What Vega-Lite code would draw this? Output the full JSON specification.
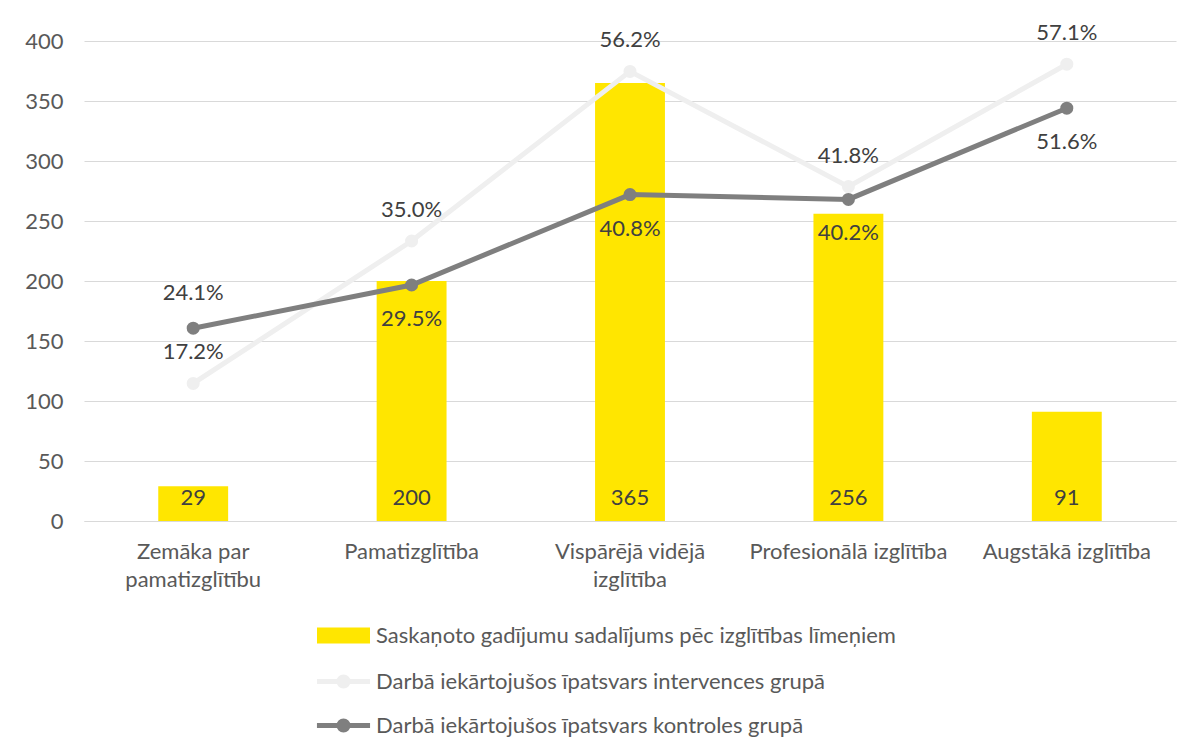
{
  "$schema": "https://vega.github.io/schema/vega-lite/v6.json",
  "autosize": "none",
  "width": 1092,
  "height": 480,
  "padding": {"left": 84, "top": 41, "right": 16, "bottom": 232},
  "background": "white",
  "config": {
    "font": "Lato",
    "view": {"stroke": null},
    "axis": {"labelFont": "Lato", "labelFontSize": 22, "labelColor": "#595959"}
  },
  "data": {
    "values": [
      {"kat": "Zemāka par pamatizglītību", "n": 29, "interv": 0.172, "kontr": 0.241},
      {"kat": "Pamatizglītība", "n": 200, "interv": 0.35, "kontr": 0.295},
      {"kat": "Vispārējā vidējā izglītība", "n": 365, "interv": 0.562, "kontr": 0.408},
      {"kat": "Profesionālā izglītība", "n": 256, "interv": 0.418, "kontr": 0.402},
      {"kat": "Augstākā izglītība", "n": 91, "interv": 0.571, "kontr": 0.516}
    ]
  },
  "encoding": {
    "x": {
      "field": "kat",
      "type": "nominal",
      "sort": null,
      "title": null,
      "scale": {"paddingInner": 0.68, "paddingOuter": 0.34},
      "axis": {
        "labelAngle": 0,
        "ticks": false,
        "domainColor": "#d9d9d9",
        "domainWidth": 1,
        "labelPadding": 20,
        "labelLineHeight": 28,
        "labelLimit": 0,
        "labelExpr": "datum.label == 'Zemāka par pamatizglītību' ? ['Zemāka par', 'pamatizglītību'] : datum.label == 'Vispārējā vidējā izglītība' ? ['Vispārējā vidējā', 'izglītība'] : datum.label"
      }
    }
  },
  "layer": [
    {
      "layer": [
        {
          "mark": {"type": "bar", "color": "#ffe600"},
          "encoding": {
            "y": {
              "field": "n",
              "type": "quantitative",
              "title": null,
              "scale": {"domain": [0, 400]},
              "axis": {
                "values": [0, 50, 100, 150, 200, 250, 300, 350, 400],
                "grid": true,
                "gridColor": "#d9d9d9",
                "gridWidth": 1,
                "domain": false,
                "ticks": false,
                "labelPadding": 21
              }
            },
            "color": {
              "datum": "Saskaņoto gadījumu sadalījums pēc izglītības līmeņiem",
              "type": "nominal",
              "scale": {
                "domain": [
                  "Saskaņoto gadījumu sadalījums pēc izglītības līmeņiem",
                  "Darbā iekārtojušos īpatsvars intervences grupā",
                  "Darbā iekārtojušos īpatsvars kontroles grupā"
                ],
                "range": ["#ffe600", "#efefef", "#7f7f7f"]
              },
              "legend": {
                "orient": "none",
                "legendX": 242,
                "legendY": 577,
                "direction": "vertical",
                "title": null,
                "labelFont": "Lato",
                "labelFontSize": 22,
                "labelColor": "#595959",
                "labelLimit": 0,
                "labelOffset": 15,
                "rowPadding": 12,
                "symbolSize": 900,
                "encode": {
                  "symbols": {
                    "update": {
                      "shape": {"signal": "datum.value == 'Saskaņoto gadījumu sadalījums pēc izglītības līmeņiem' ? 'M-1.6,-0.37H1.6V0.37H-1.6Z' : 'M-1.77,0H1.77M-0.3,0A0.3,0.3 0 1 1 0.3,0A0.3,0.3 0 1 1 -0.3,0Z'"},
                      "fill": {"scale": "color", "field": "value"},
                      "stroke": {"scale": "color", "field": "value"},
                      "strokeWidth": {"value": 5},
                      "opacity": {"value": 1},
                      "fillOpacity": {"value": 1}
                    }
                  }
                }
              }
            }
          }
        },
        {
          "mark": {"type": "text", "fontSize": 22, "color": "#404040", "dy": -23, "baseline": "middle"},
          "encoding": {
            "y": {"datum": 0, "type": "quantitative", "scale": {"domain": [0, 400]}},
            "text": {"field": "n", "type": "quantitative"}
          }
        }
      ]
    },
    {
      "layer": [
        {
          "mark": {"type": "line", "strokeWidth": 5, "point": {"filled": true, "size": 170, "opacity": 1}},
          "encoding": {
            "y": {"field": "interv", "type": "quantitative", "scale": {"domain": [0, 0.6]}, "axis": null},
            "color": {"datum": "Darbā iekārtojušos īpatsvars intervences grupā", "type": "nominal"}
          }
        },
        {
          "mark": {"type": "text", "fontSize": 22, "color": "#404040", "dy": -31, "baseline": "middle"},
          "encoding": {
            "y": {"field": "interv", "type": "quantitative", "scale": {"domain": [0, 0.6]}, "axis": null},
            "text": {"field": "interv", "type": "quantitative", "format": ".1%"}
          }
        },
        {
          "mark": {"type": "line", "strokeWidth": 5, "point": {"filled": true, "size": 170, "opacity": 1}},
          "encoding": {
            "y": {"field": "kontr", "type": "quantitative", "scale": {"domain": [0, 0.6]}, "axis": null},
            "color": {"datum": "Darbā iekārtojušos īpatsvars kontroles grupā", "type": "nominal"}
          }
        },
        {
          "transform": [{"filter": "datum.kat == 'Zemāka par pamatizglītību'"}],
          "mark": {"type": "text", "fontSize": 22, "color": "#404040", "dy": -35, "baseline": "middle"},
          "encoding": {
            "y": {"field": "kontr", "type": "quantitative", "scale": {"domain": [0, 0.6]}, "axis": null},
            "text": {"field": "kontr", "type": "quantitative", "format": ".1%"}
          }
        },
        {
          "transform": [{"filter": "datum.kat != 'Zemāka par pamatizglītību'"}],
          "mark": {"type": "text", "fontSize": 22, "color": "#404040", "dy": 34, "baseline": "middle"},
          "encoding": {
            "y": {"field": "kontr", "type": "quantitative", "scale": {"domain": [0, 0.6]}, "axis": null},
            "text": {"field": "kontr", "type": "quantitative", "format": ".1%"}
          }
        }
      ]
    }
  ],
  "resolve": {"scale": {"y": "independent"}}
}
